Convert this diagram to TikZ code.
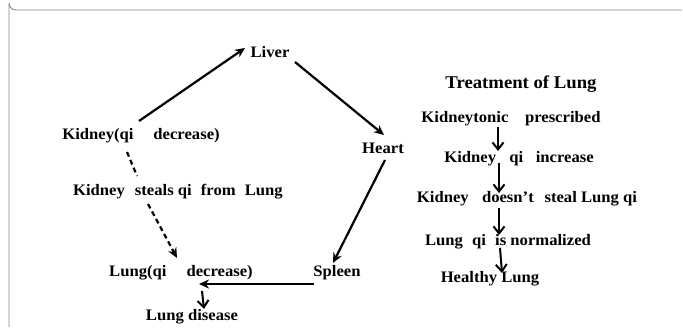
\documentclass[tikz,border=0pt]{standalone}
\usepackage{fontspec}
\setmainfont{Liberation Serif}
\usetikzlibrary{arrows.meta}
\newcommand{\tx}[1]{\scalebox{1.04}[1]{#1}}
\tikzset{
  lbl/.style={font=\fontsize{16}{18}\selectfont\bfseries, inner sep=0pt, text=black},
  ttl/.style={font=\fontsize{18}{20}\selectfont\bfseries, inner sep=0pt, text=black},
  arr/.style={line width=2.2pt, -{Stealth[length=10pt,width=9pt]}},
  darr/.style={line width=2.2pt, dash pattern=on 5pt off 3.5pt, -{Stealth[length=10pt,width=9pt]}},
  dln/.style={line width=2.2pt, dash pattern=on 5pt off 3.5pt},
  varr/.style={line width=2pt, -{Straight Barb[length=7pt,width=11pt]}},
  frame/.style={draw=black!45, line width=0.9pt}
}
\begin{document}
\begin{tikzpicture}[x=1pt,y=-1pt]
\useasboundingbox (0,0) rectangle (683,327);
\draw[frame] (682,10) -- (16,10) arc[start angle=90,end angle=180,radius=7] -- (9,327);
% left cycle
\node[lbl] (liver) at (270,52) {\tx{Liver}};
\node[lbl] (kid) at (141,136) {\tx{Kidney(qi\hspace{1.2em}decrease)}};
\node[lbl] (heart) at (383,148) {\tx{Heart}};
\node[lbl] (steal) at (178,192) {\tx{Kidney\hspace{0.6em}steals qi\hspace{0.3em} from\hspace{0.3em} Lung}};
\node[lbl] (lung) at (181,273) {\tx{Lung(qi\hspace{1.2em}decrease)}};
\node[lbl] (spleen) at (337,273) {\tx{Spleen}};
\node[lbl] (dis) at (192,317) {\tx{Lung disease}};
% right column
\node[ttl] (title) at (521,84) {\tx{Treatment of Lung}};
\node[lbl] (r1) at (511,119) {\tx{Kidneytonic\hspace{1em}prescribed}};
\node[lbl] (r2) at (519,159) {\tx{Kidney\hspace{0.8em}qi\hspace{0.5em} increase}};
\node[lbl] (r3) at (527,199) {\tx{Kidney\hspace{0.8em}doesn’t\hspace{0.4em} steal Lung qi}};
\node[lbl] (r4) at (508,242) {\tx{Lung\hspace{0.3em} qi\hspace{0.3em} is normalized}};
\node[lbl] (r5) at (490,279) {\tx{Healthy Lung}};
% endpoints
\coordinate (a1) at (139,121);
\coordinate (a2) at (245,48);
\coordinate (b1) at (295,62);
\coordinate (b2) at (384,135);
\coordinate (c1) at (385,160);
\coordinate (c2) at (333,263);
\coordinate (d1) at (314,284);
\coordinate (d2) at (199,284);
\coordinate (e1) at (202,291);
\coordinate (e2) at (204,309);
\coordinate (f1) at (127,152);
\coordinate (f2) at (137,176);
\coordinate (g1) at (148,204);
\coordinate (g2) at (177,258);
\draw[arr] (a1) -- (a2);
\draw[arr] (b1) -- (b2);
\draw[arr] (c1) -- (c2);
\draw[arr] (d1) -- (d2);
\draw[varr] (e1) -- (e2);
\draw[dln] (f1) -- (f2);
\draw[darr] (g1) -- (g2);
% right arrows
\coordinate (h1) at (498,127);
\coordinate (h2) at (498,151);
\coordinate (i1) at (499,163);
\coordinate (i2) at (499,193);
\coordinate (j1) at (499,208);
\coordinate (j2) at (499,235);
\coordinate (k1) at (500,248);
\coordinate (k2) at (502,273);
\draw[varr] (h1) -- (h2);
\draw[varr] (i1) -- (i2);
\draw[varr] (j1) -- (j2);
\draw[varr] (k1) -- (k2);
\end{tikzpicture}
\end{document}
